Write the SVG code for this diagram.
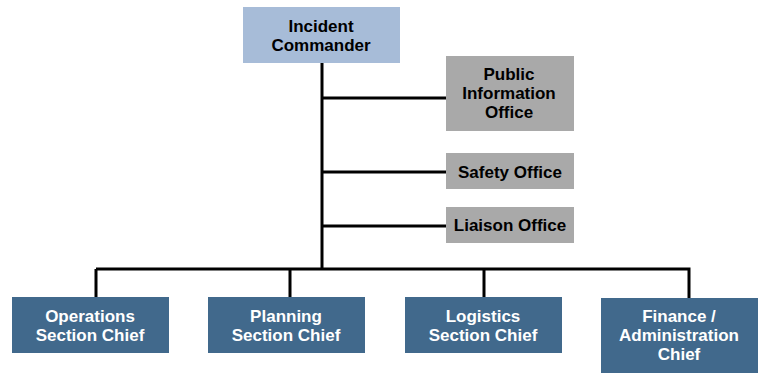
<svg xmlns="http://www.w3.org/2000/svg" width="761" height="373" viewBox="0 0 761 373">
<style>
.t{font-family:"Liberation Sans",Arial,sans-serif;font-weight:bold;font-size:17px;text-anchor:middle}
.dk{fill:#000}
.wh{fill:#fff}
.cmd{fill:#a7bcd8}
.staff{fill:#a9a9a9}
.sec{fill:#41698c}
.ln{stroke:#000;stroke-width:3;fill:none}
</style>
<rect width="761" height="373" fill="#fff"/>
<g id="connectors">
<path class="ln" d="M322 63V269"/>
<path class="ln" d="M322 98H446M322 172H446M322 226H446"/>
<path class="ln" d="M96 269H689M96 269V297M290 269V297M484 269V297M689 267.5V298"/>
</g>
<g id="incident-commander">
<rect class="cmd" x="243" y="7" width="157" height="56"/>
<text class="t dk" x="321" y="32">Incident</text>
<text class="t dk" x="321" y="51">Commander</text>
</g>
<g id="public-information-office">
<rect class="staff" x="446" y="56" width="128" height="75"/>
<text class="t dk" x="509" y="80">Public</text>
<text class="t dk" x="509" y="99">Information</text>
<text class="t dk" x="509" y="118">Office</text>
</g>
<g id="safety-office">
<rect class="staff" x="446" y="153" width="128" height="36"/>
<text class="t dk" x="510" y="178">Safety Office</text>
</g>
<g id="liaison-office">
<rect class="staff" x="446" y="207" width="128" height="36"/>
<text class="t dk" x="510" y="231">Liaison Office</text>
</g>
<g id="operations">
<rect class="sec" x="12" y="297" width="157" height="56"/>
<text class="t wh" x="90" y="322">Operations</text>
<text class="t wh" x="90" y="341">Section Chief</text>
</g>
<g id="planning">
<rect class="sec" x="208" y="297" width="157" height="56"/>
<text class="t wh" x="286" y="322">Planning</text>
<text class="t wh" x="286" y="341">Section Chief</text>
</g>
<g id="logistics">
<rect class="sec" x="405" y="297" width="157" height="56"/>
<text class="t wh" x="483" y="322">Logistics</text>
<text class="t wh" x="483" y="341">Section Chief</text>
</g>
<g id="finance">
<rect class="sec" x="601" y="298" width="157" height="75"/>
<text class="t wh" x="679" y="322">Finance /</text>
<text class="t wh" x="679" y="341">Administration</text>
<text class="t wh" x="679" y="360">Chief</text>
</g>
</svg>
